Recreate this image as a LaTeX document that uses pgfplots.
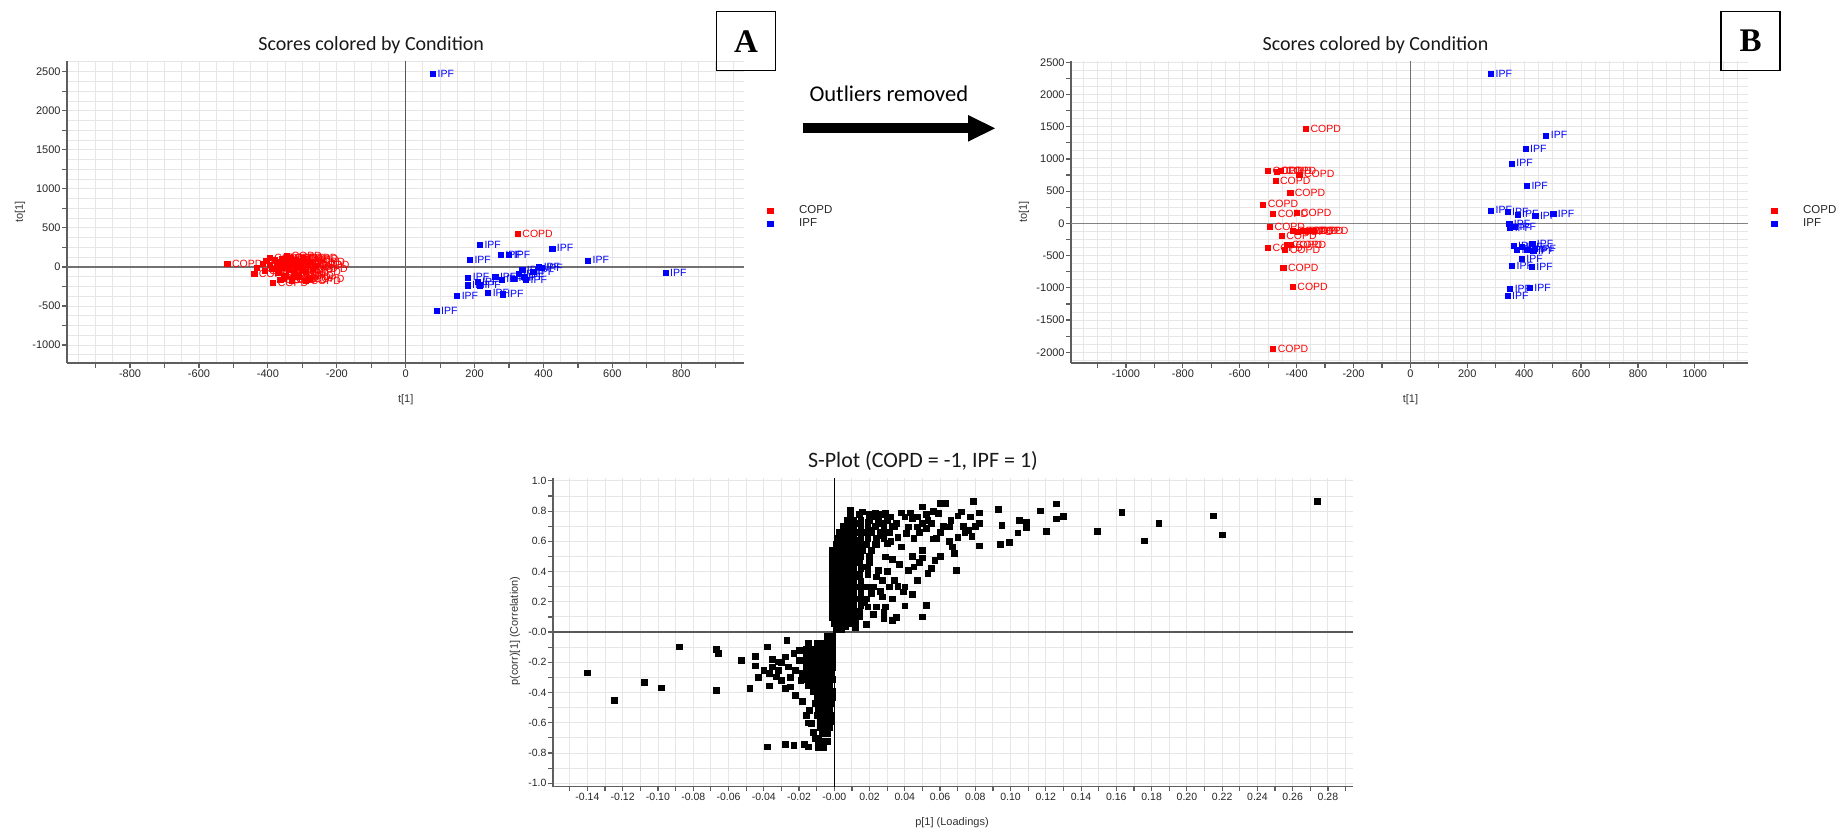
\documentclass[border=0pt]{standalone}
\usepackage{pgfplots}
\pgfplotsset{compat=1.18}
\usepackage{fontspec}
\setmainfont{Liberation Sans}
\newfontfamily\calib{Carlito}
\newfontfamily\serifb{Liberation Serif}
\definecolor{axgray}{HTML}{5E5E5E}
\definecolor{gridgray}{HTML}{E6E6E6}
\definecolor{zerogray}{HTML}{585858}
\definecolor{copdred}{HTML}{FF0000}
\definecolor{ipfblue}{HTML}{0000FF}

\pgfplotsset{
  scoreaxis/.style={
    scale only axis,
    axis lines*=left,
    axis line style={axgray, line width=1.6pt},
    tick align=outside,
    tick style={axgray, line width=1.2pt},
    major tick length=4.5pt,
    minor tick length=0pt,
    grid=both,
    major grid style={gridgray, line width=0.9pt},
    minor grid style={gridgray, line width=0.9pt},
    tick label style={font=\fontsize{11}{13}\selectfont, text=black!85},
    xticklabel style={inner sep=2pt},
    yticklabel style={inner sep=1.5pt},
    clip=false,
  },
  copdplot/.style={only marks, mark=square*, mark size=2.6pt, color=copdred,
    nodes near coords={COPD},
    every node near coord/.style={anchor=west, xshift=4.6pt, inner sep=0pt,
      font=\fontsize{10.5}{12}\selectfont, text=copdred}},
  ipfplot/.style={only marks, mark=square*, mark size=2.6pt, color=ipfblue,
    nodes near coords={IPF},
    every node near coord/.style={anchor=west, xshift=4.6pt, inner sep=0pt,
      font=\fontsize{10.5}{12}\selectfont, text=ipfblue}},
}

\begin{document}
\begin{tikzpicture}
\useasboundingbox (0pt,0pt) rectangle (1845pt,830pt);

% ---------------- Panel A ----------------
\begin{axis}[scoreaxis,
  at={(66.7pt,466.7pt)}, anchor=south west, width=677.3pt, height=302.3pt,
  xmin=-984, xmax=982, ymin=-1234, ymax=2637,
  xtick={-900,-800,...,900},
  xticklabels={{},-800,{},-600,{},-400,{},-200,{},0,{},200,{},400,{},600,{},800,{}},
  minor xtick={-950,-850,...,950},
  ytick={-1000,-750,...,2500},
  yticklabels={-1000,{},-500,{},0,{},500,{},1000,{},1500,{},2000,{},2500},
  minor ytick={-1125,-875,...,2625},
  legend image code/.code={\path[draw=none,fill=none] (-2.6pt,-0.1pt) rectangle (29pt,0.1pt); \draw[#1] plot coordinates {(0pt,0pt)};},
  legend style={at={(1.0345,0.484)}, anchor=west, draw=none, fill=none,
    font=\fontsize{11.5}{13}\selectfont, text=black!85, inner sep=0pt, row sep=3pt,
    nodes={inner sep=0pt, text height=8.5pt, text depth=1.5pt}},
  legend cell align=left,
]
\draw[zerogray, line width=1.6pt] ({axis cs:0,0}|-{rel axis cs:0,0}) -- ({axis cs:0,0}|-{rel axis cs:0,1});
\draw[zerogray!85, line width=1.5pt] ({rel axis cs:0,0}|-{axis cs:0,0}) -- ({rel axis cs:1,0}|-{axis cs:0,0});
\addplot[copdplot] coordinates {
(325,425)(-518,37)(-395,118)(-440,-91)(-385,-198)(-364,-160)(-432,-5)(-415,45)(-405,80)
(-380,95)(-370,60)(-360,110)(-350,20)(-345,75)(-340,-40)(-335,120)(-330,40)(-325,-80)
(-320,90)(-315,0)(-310,-120)(-305,55)(-300,-30)(-297,100)(-290,-60)(-285,30)(-280,-150)
(-278,70)(-290,-180)(-330,-170)(-350,-110)(-370,-70)(-390,-20)(-410,-50)(-360,-10)
(-345,140)(-300,120)(-320,-130)(-270,-20)(-265,20)(-355,-150)(-395,30)(-375,10)
};
\addlegendentry{COPD}
\addplot[ipfplot] coordinates {
(79,2470)(215,284)(425,238)(276,152)(300,152)(186,88)(529,84)(754,-74)(338,-40)
(387,3)(395,-9)(181,-133)(260,-125)(328,-90)(349,-167)(278,-159)(208,-193)(179,-235)
(215,-235)(239,-329)(281,-350)(149,-372)(89,-564)(342,-125)(314,-146)(370,-60)
};
\addlegendentry{IPF}
\end{axis}

% ---------------- Panel B ----------------
\begin{axis}[scoreaxis,
  at={(1070.8pt,466.7pt)}, anchor=south west, width=677.2pt, height=302.3pt,
  xmin=-1194, xmax=1187, ymin=-2171, ymax=2520,
  xtick={-1100,-1000,...,1100},
  xticklabels={{},-1000,{},-800,{},-600,{},-400,{},-200,{},0,{},200,{},400,{},600,{},800,{},1000,{}},
  minor xtick={-1150,-1050,...,1150},
  ytick={-2000,-1750,...,2500},
  yticklabels={-2000,{},-1500,{},-1000,{},-500,{},0,{},500,{},1000,{},1500,{},2000,{},2500},
  minor ytick={-2125,-1875,...,2375},
  legend image code/.code={\path[draw=none,fill=none] (-2.6pt,-0.1pt) rectangle (29pt,0.1pt); \draw[#1] plot coordinates {(0pt,0pt)};},
  legend style={at={(1.0345,0.484)}, anchor=west, draw=none, fill=none,
    font=\fontsize{11.5}{13}\selectfont, text=black!85, inner sep=0pt, row sep=3pt,
    nodes={inner sep=0pt, text height=8.5pt, text depth=1.5pt}},
  legend cell align=left,
]
\draw[zerogray!85, line width=1pt] ({axis cs:0,0}|-{rel axis cs:0,0}) -- ({axis cs:0,0}|-{rel axis cs:0,1});
\draw[zerogray!75, line width=1.5pt] ({rel axis cs:0,0}|-{axis cs:0,0}) -- ({rel axis cs:1,0}|-{axis cs:0,0});
\addplot[copdplot] coordinates {
(-368,1464)(-501,818)(-470,807)(-391,761)(-455,812)(-475,657)(-423,476)(-518,295)
(-483,155)(-401,160)(-494,-47)(-415,-119)(-377,-119)(-341,-119)(-395,-125)(-360,-119)
(-453,-197)(-434,-326)(-420,-330)(-501,-378)(-441,-409)(-447,-683)(-414,-978)(-483,-1946)
};
\addlegendentry{COPD}
\addplot[ipfplot] coordinates {
(283,2324)(477,1366)(404,1160)(356,932)(409,580)(283,202)(341,176)(376,140)(439,114)
(502,145)(347,0)(350,-67)(367,-57)(428,-316)(391,-357)(374,-409)(409,-409)(438,-393)
(391,-548)(357,-652)(426,-668)(350,-1009)(419,-994)(341,-1123)(362,-342)(432,-430)
};
\addlegendentry{IPF}
\end{axis}

% ---------------- S-plot ----------------
\begin{axis}[scoreaxis,
  at={(552.7pt,43.3pt)}, anchor=south west, width=799.9pt, height=308.4pt,
  xmin=-0.1597, xmax=0.294, ymin=-1.023, ymax=1.017,
  minor tick length=4.5pt,
  tick label style={font=\fontsize{10.5}{12}\selectfont, text=black!85},
  xtick={-0.14,-0.12,-0.10,-0.08,-0.06,-0.04,-0.02,0,0.02,0.04,0.06,0.08,0.10,0.12,0.14,0.16,0.18,0.20,0.22,0.24,0.26,0.28},
  xticklabels={-0.14,-0.12,-0.10,-0.08,-0.06,-0.04,-0.02,-0.00,0.02,0.04,0.06,0.08,0.10,0.12,0.14,0.16,0.18,0.20,0.22,0.24,0.26,0.28},
  minor xtick={-0.15,-0.13,-0.11,-0.09,-0.07,-0.05,-0.03,-0.01,0.01,0.03,0.05,0.07,0.09,0.11,0.13,0.15,0.17,0.19,0.21,0.23,0.25,0.27,0.29},
  ytick={-1,-0.8,-0.6,-0.4,-0.2,0,0.2,0.4,0.6,0.8,1},
  yticklabels={-1.0,-0.8,-0.6,-0.4,-0.2,-0.0,0.2,0.4,0.6,0.8,1.0},
  minor ytick={-0.9,-0.7,-0.5,-0.3,-0.1,0.1,0.3,0.5,0.7,0.9},
]
\draw[black, line width=0.9pt] ({axis cs:0,0}|-{rel axis cs:0,0}) -- ({axis cs:0,0}|-{rel axis cs:0,1});
\draw[zerogray, line width=1.5pt] ({rel axis cs:0,0}|-{axis cs:0,0}) -- ({rel axis cs:1,0}|-{axis cs:0,0});
\addplot[only marks, mark=square*, mark size=2.9pt, color=black] coordinates {
(0.274,0.866)(0.215,0.769)(0.220,0.644)(0.184,0.721)(0.176,0.604)(0.163,0.794)(0.149,0.668)
(0.130,0.767)(0.126,0.849)(0.126,0.750)(0.117,0.802)(0.120,0.668)(0.109,0.730)(0.109,0.692)
(0.105,0.741)(0.104,0.657)(0.099,0.593)(0.094,0.582)(0.095,0.708)(0.093,0.813)(0.079,0.866)
(0.082,0.789)(0.082,0.719)(0.082,0.571)(0.077,0.763)(0.078,0.635)(0.076,0.675)(0.072,0.796)
(0.069,0.410)(0.068,0.520)(0.067,0.564)(0.065,0.697)(0.063,0.851)(0.060,0.851)(0.059,0.785)
(0.056,0.617)(0.057,0.476)(0.055,0.421)(0.053,0.388)(0.052,0.688)(0.050,0.829)(0.050,0.542)
(0.050,0.492)(0.052,0.179)(0.050,0.101)(0.044,0.754)(0.045,0.432)(0.042,0.410)(0.040,0.174)
(0.039,0.267)(0.036,0.304)(0.033,0.079)(0.031,0.300)(0.029,0.498)(0.028,0.090)(0.029,0.168)
(0.027,0.234)(0.024,0.366)(0.038,0.564)(0.041,0.653)(0.047,0.697)(0.053,0.741)(0.034,0.697)
(0.027,0.719)(0.024,0.763)(0.021,0.675)(0.016,0.796)(0.009,0.807)(0.0075,0.741)(0.014,0.608)
(0.021,0.542)(0.024,0.168)(0.034,0.344)(0.040,0.300)(0.047,0.344)(0.027,0.344)(0.019,0.168)
(0.014,0.101)(0.021,0.256)(0.025,0.410)(0.030,0.586)(0.035,0.719)(0.040,0.763)(0.047,0.763)
(0.050,0.719)(0.042,0.697)(0.032,0.763)(0.029,0.785)(0.023,0.789)(0.019,0.730)(0.012,0.719)
(0.009,0.653)(0.014,0.498)(0.017,0.432)(0.012,0.366)(0.016,0.300)(0.011,0.234)(0.009,0.168)
(0.0075,0.101)(0.012,0.079)(0.006,0.035)
(0.058,0.62)(0.060,0.66)(0.055,0.72)(0.048,0.66)(0.045,0.62)(0.062,0.70)(0.066,0.74)(0.070,0.77)
(0.073,0.70)(0.036,0.63)(0.033,0.48)(0.037,0.45)(0.030,0.40)(0.026,0.27)(0.022,0.30)(0.028,0.13)
(0.033,0.22)(0.035,0.10)(0.044,0.25)(0.048,0.46)(0.044,0.50)(0.060,0.50)(0.065,0.60)(0.070,0.63)
(0.074,0.66)(0.080,0.70)(0.056,0.80)(0.052,0.78)(0.038,0.79)(0.043,0.79)(0.019,0.62)(0.024,0.58)
(0.026,0.64)(0.030,0.66)(0.032,0.60)(0.019,0.38)(0.020,0.46)(0.017,0.20)(0.022,0.12)(0.018,0.05)
(0.012,0.03)
(0.001,0.02)(0.004,0.02)
(0.000,0.06)(0.003,0.06)(0.006,0.06)(0.010,0.06)
(-0.001,0.10)(0.002,0.10)(0.005,0.10)(0.008,0.10)(0.012,0.10)
(-0.001,0.14)(0.002,0.14)(0.005,0.14)(0.008,0.14)(0.011,0.14)(0.014,0.14)
(-0.001,0.18)(0.002,0.18)(0.005,0.18)(0.008,0.18)(0.011,0.18)(0.015,0.18)
(-0.001,0.22)(0.002,0.22)(0.005,0.22)(0.008,0.22)(0.011,0.22)(0.014,0.22)(0.018,0.22)
(-0.001,0.26)(0.002,0.26)(0.005,0.26)(0.008,0.26)(0.011,0.26)(0.015,0.26)
(-0.001,0.30)(0.002,0.30)(0.005,0.30)(0.008,0.30)(0.011,0.30)(0.014,0.30)(0.018,0.30)
(-0.001,0.34)(0.002,0.34)(0.005,0.34)(0.008,0.34)(0.011,0.34)(0.015,0.34)
(-0.001,0.38)(0.002,0.38)(0.005,0.38)(0.008,0.38)(0.011,0.38)(0.014,0.38)
(-0.001,0.42)(0.002,0.42)(0.005,0.42)(0.008,0.42)(0.011,0.42)(0.015,0.42)(0.019,0.42)
(-0.001,0.46)(0.002,0.46)(0.005,0.46)(0.008,0.46)(0.011,0.46)(0.014,0.46)
(-0.001,0.50)(0.002,0.50)(0.005,0.50)(0.008,0.50)(0.011,0.50)(0.015,0.50)(0.020,0.50)
(-0.001,0.54)(0.002,0.54)(0.005,0.54)(0.008,0.54)(0.012,0.54)(0.016,0.54)(0.021,0.54)
(0.001,0.58)(0.004,0.58)(0.007,0.58)(0.010,0.58)(0.014,0.58)(0.018,0.58)(0.023,0.58)
(0.002,0.62)(0.005,0.62)(0.008,0.62)(0.011,0.62)(0.015,0.62)(0.019,0.62)(0.024,0.62)(0.028,0.62)
(0.003,0.66)(0.006,0.66)(0.009,0.66)(0.013,0.66)(0.017,0.66)(0.021,0.66)(0.026,0.66)(0.031,0.66)
(0.005,0.70)(0.008,0.70)(0.011,0.70)(0.015,0.70)(0.019,0.70)(0.023,0.70)(0.028,0.70)(0.033,0.70)
(0.007,0.74)(0.011,0.74)(0.015,0.74)(0.020,0.74)(0.025,0.74)(0.030,0.74)
(0.009,0.78)(0.014,0.78)(0.020,0.78)(0.027,0.78)
(-0.140,-0.269)(-0.125,-0.450)(-0.108,-0.333)(-0.098,-0.368)(-0.088,-0.097)(-0.067,-0.112)
(-0.066,-0.141)(-0.067,-0.384)(-0.053,-0.185)(-0.048,-0.373)(-0.045,-0.159)(-0.045,-0.223)
(-0.038,-0.758)(-0.038,-0.097)(-0.037,-0.273)(-0.037,-0.355)(-0.033,-0.295)(-0.032,-0.196)
(-0.032,-0.251)(-0.028,-0.741)(-0.027,-0.055)(-0.028,-0.163)(-0.025,-0.362)(-0.023,-0.747)
(-0.026,-0.229)(-0.022,-0.251)(-0.020,-0.185)(-0.019,-0.317)(-0.017,-0.741)(-0.015,-0.758)
(-0.014,-0.516)(-0.013,-0.604)(-0.010,-0.406)(-0.009,-0.714)(-0.007,-0.758)(-0.006,-0.648)
(-0.015,-0.075)(-0.014,-0.141)(-0.017,-0.273)(-0.012,-0.163)(-0.023,-0.141)(-0.030,-0.317)
(-0.035,-0.229)(-0.020,-0.12)(-0.025,-0.30)(-0.028,-0.37)(-0.022,-0.42)(-0.018,-0.46)
(-0.016,-0.55)(-0.012,-0.66)(-0.011,-0.70)(-0.009,-0.76)(-0.015,-0.60)(-0.035,-0.18)
(-0.040,-0.25)(-0.043,-0.30)(-0.030,-0.20)
(-0.004,-0.03)(-0.001,-0.03)
(-0.010,-0.07)(-0.007,-0.07)(-0.004,-0.07)(-0.001,-0.07)
(-0.016,-0.11)(-0.013,-0.11)(-0.010,-0.11)(-0.007,-0.11)(-0.004,-0.11)(-0.001,-0.11)
(-0.016,-0.15)(-0.013,-0.15)(-0.010,-0.15)(-0.007,-0.15)(-0.004,-0.15)(-0.001,-0.15)
(-0.018,-0.19)(-0.015,-0.19)(-0.012,-0.19)(-0.009,-0.19)(-0.006,-0.19)(-0.003,-0.19)(-0.001,-0.19)
(-0.016,-0.23)(-0.013,-0.23)(-0.010,-0.23)(-0.007,-0.23)(-0.004,-0.23)(-0.001,-0.23)
(-0.018,-0.27)(-0.014,-0.27)(-0.011,-0.27)(-0.008,-0.27)(-0.005,-0.27)(-0.002,-0.27)
(-0.016,-0.31)(-0.013,-0.31)(-0.010,-0.31)(-0.007,-0.31)(-0.004,-0.31)(-0.001,-0.31)
(-0.015,-0.35)(-0.012,-0.35)(-0.009,-0.35)(-0.006,-0.35)(-0.003,-0.35)
(-0.012,-0.39)(-0.009,-0.39)(-0.006,-0.39)(-0.003,-0.39)(-0.001,-0.39)
(-0.010,-0.43)(-0.007,-0.43)(-0.004,-0.43)(-0.001,-0.43)
(-0.011,-0.47)(-0.008,-0.47)(-0.005,-0.47)(-0.002,-0.47)
(-0.009,-0.51)(-0.006,-0.51)(-0.003,-0.51)
(-0.010,-0.55)(-0.007,-0.55)(-0.004,-0.55)(-0.002,-0.55)
(-0.008,-0.59)(-0.005,-0.59)(-0.002,-0.59)
(-0.008,-0.63)(-0.005,-0.63)(-0.003,-0.63)
(-0.007,-0.67)(-0.004,-0.67)
(-0.006,-0.72)(-0.004,-0.72)
(-0.006,-0.76)
};
\end{axis}

% ---------------- texts, boxes, arrow ----------------
\node[anchor=base, font=\calib\fontsize{20}{24}\selectfont, text=black!90] at (371.2pt,779.3pt) {Scores colored by Condition};
\node[anchor=base, font=\calib\fontsize{20}{24}\selectfont, text=black!90] at (1375.5pt,779.3pt) {Scores colored by Condition};
\node[anchor=base, font=\calib\fontsize{22}{26}\selectfont, text=black!90] at (923pt,362pt) {S-Plot (COPD = -1, IPF = 1)};

\node[font=\fontsize{11}{13}\selectfont, text=black!80] at (405.7pt,430pt) {t[1]};
\node[font=\fontsize{11}{13}\selectfont, text=black!80, rotate=90] at (20pt,618pt) {to[1]};
\node[font=\fontsize{11}{13}\selectfont, text=black!80] at (1410.4pt,430pt) {t[1]};
\node[font=\fontsize{11}{13}\selectfont, text=black!80, rotate=90] at (1024pt,618pt) {to[1]};
\node[font=\fontsize{11}{13}\selectfont, text=black!80] at (952pt,7pt) {p[1] (Loadings)};
\node[font=\fontsize{11}{13}\selectfont, text=black!80, rotate=90] at (515pt,199pt) {p(corr)[1] (Correlation)};

\node[draw=black, line width=1.6pt, minimum width=59pt, minimum height=59pt, inner sep=0pt,
  font=\serifb\bfseries\fontsize{33}{36}\selectfont] at (746pt,788.8pt) {A};
\node[draw=black, line width=1.6pt, minimum width=59pt, minimum height=59pt, inner sep=0pt,
  font=\serifb\bfseries\fontsize{33}{36}\selectfont] at (1750.5pt,788.8pt) {B};

\node[anchor=base west, font=\calib\fontsize{22.5}{26}\selectfont, inner sep=0pt] at (809.3pt,728.3pt) {Outliers removed};
\fill[black] (802.7pt,696.7pt) rectangle (970pt,706.7pt);
\fill[black] (968pt,715pt) -- (995pt,701.7pt) -- (968pt,688.3pt) -- cycle;
\end{tikzpicture}
\end{document}
